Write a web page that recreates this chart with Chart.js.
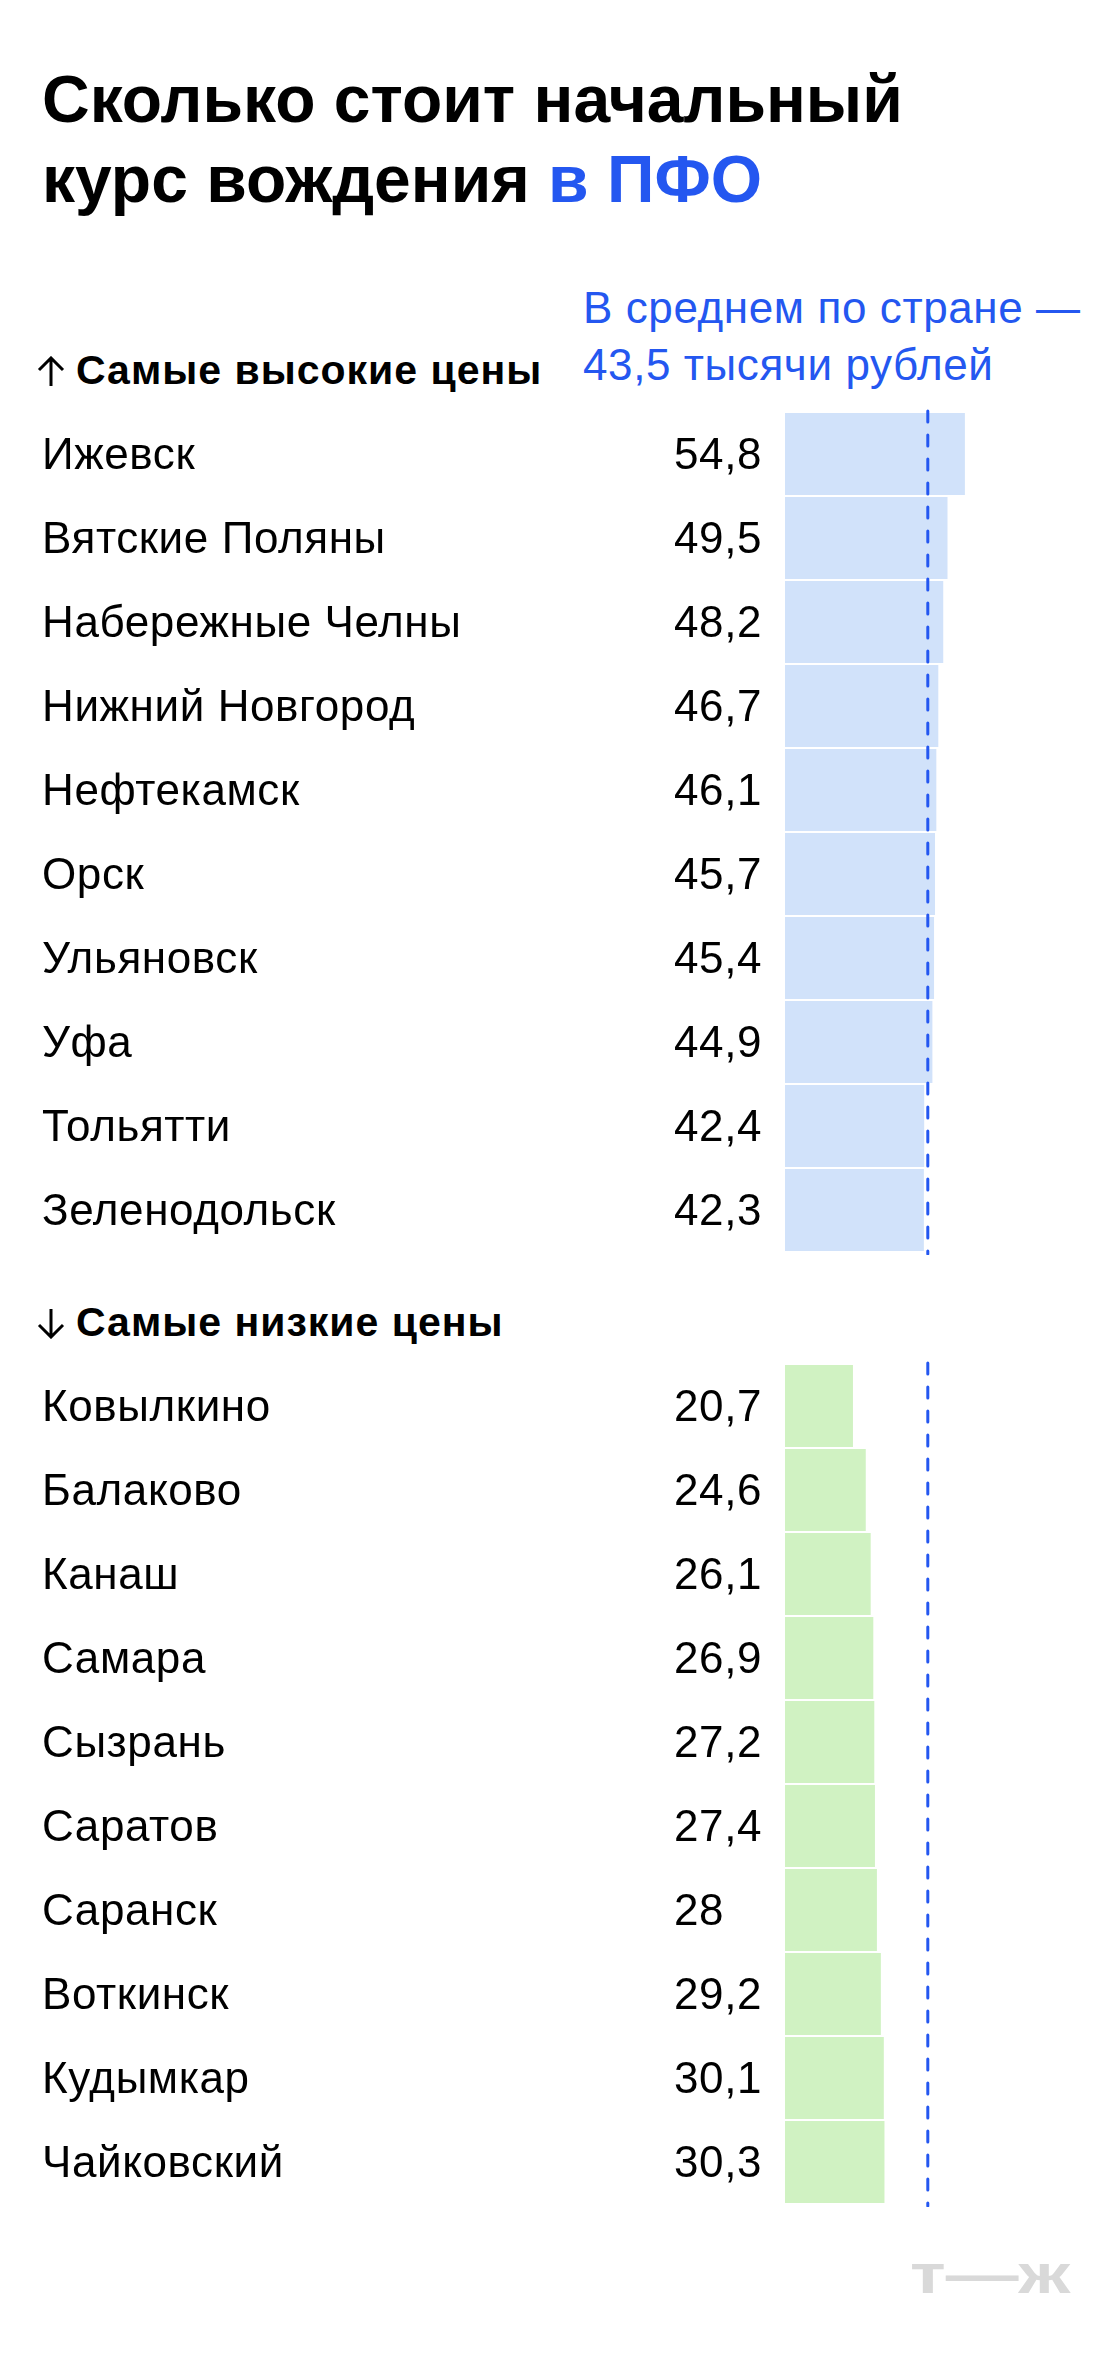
<!DOCTYPE html>
<html lang="ru">
<head>
<meta charset="utf-8">
<script src="https://cdn.jsdelivr.net/npm/chart.js@4"></script>
<style>
  body { margin: 0; background: #fff; font-family: "Liberation Sans", Arial, sans-serif; }
  #page { position: relative; width: 1120px; height: 2372px; overflow: hidden; }
  .abs { position: absolute; white-space: nowrap; }
  #title { left: 42px; top: 59px; font-size: 66px; line-height: 80px; font-weight: bold; color: #000; }
  .blue { color: #2457f0; }
  #note { left: 583px; top: 279px; font-size: 44px; line-height: 57px; letter-spacing: 0.6px; color: #2457f0; }
  .head { left: 76px; font-size: 41px; line-height: 41px; font-weight: bold; letter-spacing: 1px; color: #000; }
  .arrow { position: absolute; left: 37px; }
  #logo { left: 910px; top: 2246px; font-size: 56px; line-height: 56px; font-weight: bold; color: #d9d9d9;
          transform: scaleX(1.3); transform-origin: left top; }
  canvas { position: absolute; left: 0; }
</style>
</head>
<body>
<div id="page">
  <div id="title" class="abs">Сколько стоит начальный<br>курс вождения <span class="blue">в ПФО</span></div>
  <div id="note" class="abs">В среднем по стране —<br>43,5 тысячи рублей</div>

  <svg class="arrow" style="top:356px" width="28" height="30" viewBox="0 0 28 30">
    <path d="M14 2 V30 M2 14 L14 2 L26 14" fill="none" stroke="#000" stroke-width="3"/>
  </svg>
  <div class="abs head" style="top:350px">Самые высокие цены</div>

  <svg class="arrow" style="top:1309px" width="28" height="30" viewBox="0 0 28 30">
    <path d="M14 0 V28 M2 16 L14 28 L26 16" fill="none" stroke="#000" stroke-width="3"/>
  </svg>
  <div class="abs head" style="top:1302px">Самые низкие цены</div>

  <canvas id="highChart" width="1120" height="846" style="top:409px"></canvas>
  <canvas id="lowChart" width="1120" height="846" style="top:1361px"></canvas>
  <div id="logo" class="abs">т—ж</div>
</div>
<script>
const highCities = ['Ижевск', 'Вятские Поляны', 'Набережные Челны', 'Нижний Новгород', 'Нефтекамск',
    'Орск', 'Ульяновск', 'Уфа', 'Тольятти', 'Зеленодольск'];
const highPrices = [54.8, 49.5, 48.2, 46.7, 46.1, 45.7, 45.4, 44.9, 42.4, 42.3];

const lowCities = ['Ковылкино', 'Балаково', 'Канаш', 'Самара', 'Сызрань',
    'Саратов', 'Саранск', 'Воткинск', 'Кудымкар', 'Чайковский'];
const lowPrices = [20.7, 24.6, 26.1, 26.9, 27.2, 27.4, 28, 29.2, 30.1, 30.3];

// average across the country, thousand rubles
const countryAverage = 43.5;

const fmt = (v) => String(v).replace('.', ',');

// city name + value on the left, dashed average line over the bars
const rowText = {
    id: 'rowText',
    afterDatasetsDraw(chart) {
        const { ctx, chartArea, scales: { x, y } } = chart;
        const values = chart.data.datasets[0].data;
        ctx.save();
        ctx.font = '44px "Liberation Sans"';
        ctx.letterSpacing = '0.6px';
        ctx.fillStyle = '#000';
        ctx.textBaseline = 'alphabetic';
        chart.data.labels.forEach((city, i) => {
            let yy = y.getPixelForValue(i) + 15;
            ctx.fillText(city, 42, yy);
            ctx.fillText(fmt(values[i]), 674, yy);
        });

        let ax = x.getPixelForValue(countryAverage);
        ctx.strokeStyle = '#2457f0';
        ctx.lineWidth = 3;
        ctx.lineCap = 'round';
        ctx.setLineDash([11, 13]);
        ctx.beginPath();
        ctx.moveTo(ax, chartArea.top - 1);
        ctx.lineTo(ax, chartArea.bottom + 2);
        ctx.stroke();
        ctx.restore();
    }
};

const CreateChart = (id, labels, data, color) => {
    let config = {
        type: 'bar',
        data: {
            labels: labels,
            datasets: [{
                data: data,
                backgroundColor: color,
                borderWidth: 0,
                barPercentage: 1,
                categoryPercentage: 82 / 84
            }]
        },
        options: {
            indexAxis: 'y',
            responsive: false,
            animation: false,
            devicePixelRatio: 1,
            layout: {
                padding: { left: 785, right: 10, top: 3, bottom: 3 }
            },
            scales: {
                x: { min: 0, max: 99, display: false },
                y: { display: false }
            },
            plugins: {
                legend: { display: false },
                tooltip: { enabled: false }
            }
        },
        plugins: [rowText]
    };
    return new Chart(document.getElementById(id), config);
};

CreateChart('highChart', highCities, highPrices, '#d1e2fa');
CreateChart('lowChart', lowCities, lowPrices, '#d0f2c2');
</script>
</body>
</html>
